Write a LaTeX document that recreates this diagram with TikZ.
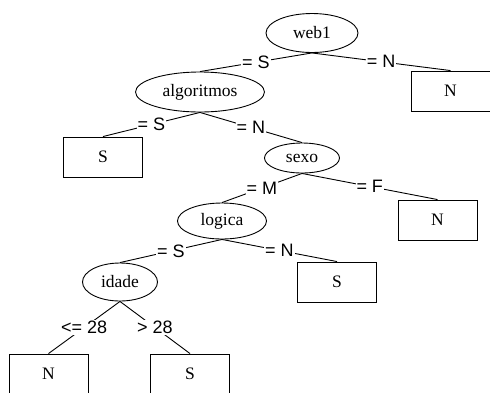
\documentclass[tikz,border=0pt]{standalone}
\usepackage{fontspec}
\setmainfont{Liberation Serif}
\newfontfamily\edgefont{Liberation Sans}
\usetikzlibrary{shapes.geometric}

\tikzset{
  every path/.style={line width=0.9pt},
  test/.style={draw, ellipse, inner sep=0pt, font=\fontsize{17.5}{17.5}\selectfont},
  leaf/.style={draw, rectangle, minimum width=79pt, minimum height=40pt, inner sep=0pt,
               font=\fontsize{17.5}{17.5}\selectfont},
  cond/.style={fill=white, inner sep=0.8pt, font=\edgefont\fontsize{18}{18}\selectfont}
}

\begin{document}
\begin{tikzpicture}[x=1pt,y=-1pt]
\useasboundingbox (0,0) rectangle (490,392);

% decision nodes
\node[test, minimum width=92pt,  minimum height=39pt] (web1)  at (312,33)  {web1};
\node[test, minimum width=129pt, minimum height=40pt] (alg)   at (200,92)  {algoritmos};
\node[test, minimum width=75pt,  minimum height=30pt] (sexo)  at (302,158) {sexo};
\node[test, minimum width=89pt,  minimum height=36pt] (logi)  at (222,221) {logica};
\node[test, minimum width=75pt,  minimum height=38pt] (idade) at (120,282) {idade};

% leaves
\node[leaf] (n1) at (450.5,91)  {N};
\node[leaf] (s1) at (103,157)   {S};
\node[leaf] (n2) at (437.5,220) {N};
\node[leaf] (s2) at (337,282)   {S};
\node[leaf] (n3) at (48.5,374)  {N};
\node[leaf] (s3) at (190,374)   {S};

% branches with their conditions
\draw (web1.south)  -- node[cond] {= S}   (alg.north);
\draw (web1.south)  -- node[cond] {= N}   (n1.north);
\draw (alg.south)   -- node[cond] {= S}   (s1.north);
\draw (alg.south)   -- node[cond] {= N}   (sexo.north);
\draw (sexo.south)  -- node[cond] {= M}   (logi.north);
\draw (sexo.south)  -- node[cond] {= F}   (n2.north);
\draw (logi.south)  -- node[cond] {= S}   (idade.north);
\draw (logi.south)  -- node[cond] {= N}   (s2.north);
\draw (idade.south) -- node[cond] {<= 28} (n3.north);
\draw (idade.south) -- node[cond] {> 28}  (s3.north);
\end{tikzpicture}
\end{document}
